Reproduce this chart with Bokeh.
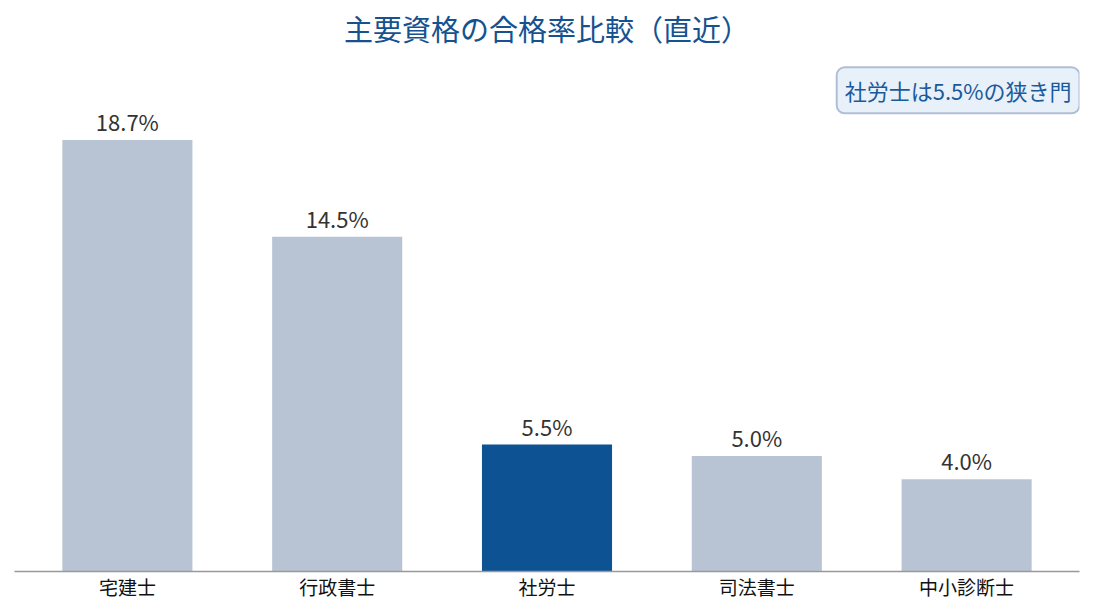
from bokeh.plotting import figure
from bokeh.models import ColumnDataSource, Range1d, Label
from bokeh.core.properties import value
from bokeh.embed import file_html
from bokeh.resources import INLINE

categories = ["宅建士", "行政書士", "社労士", "司法書士", "中小診断士"]
rates = [18.7, 14.5, 5.5, 5.0, 4.0]
highlight = "社労士"
title_text = "主要資格の合格率比較（直近）"
note_text = "社労士は5.5%の狭き門"

FONT = "Noto Sans CJK JP"
GRAY = "#b8c4d4"
BLUE = "#0d5394"

xs = list(range(len(categories)))
colors = [BLUE if c == highlight else GRAY for c in categories]
labels = [f"{v:.1f}%" for v in rates]
src = ColumnDataSource(dict(x=xs, top=rates, color=colors, label=labels))

p = figure(width=1086, height=603, output_backend="svg", toolbar_location=None,
           x_range=Range1d(-0.538, 4.538), y_range=Range1d(0, 24.74),
           min_border_left=14, min_border_right=7, min_border_bottom=32, min_border_top=0)
p.vbar(x="x", top="top", width=0.62, color="color", source=src, line_color=None)
p.text(x="x", y="top", text="label", source=src, text_align="center", text_baseline="bottom",
       y_offset=-3, text_font_size="22px", text_color="#333333", text_font=value(FONT))

p.yaxis.visible = False
p.xgrid.visible = False
p.ygrid.visible = False
p.outline_line_color = None
p.xaxis.ticker = xs
p.xaxis.major_label_overrides = {i: c for i, c in enumerate(categories)}
p.xaxis.major_label_text_font = FONT
p.xaxis.major_label_text_font_size = "19px"
p.xaxis.major_label_text_color = "#111111"
p.xaxis.axis_line_color = "#999999"
p.xaxis.axis_line_width = 1.5
p.xaxis.major_tick_line_color = None
p.xaxis.minor_tick_line_color = None
p.xaxis.major_tick_out = 0
p.xaxis.major_tick_in = 0
p.xaxis.major_label_standoff = 1

title = Label(x=2, y=23.57, text=title_text, text_align="center", text_baseline="middle",
              text_font=FONT, text_font_size="29px", text_color="#15528f")
p.add_layout(title)

note = Label(x=4.538, y=20.85, text=note_text, text_align="right", text_baseline="middle",
             x_offset=0, text_font=FONT, text_font_size="22px", text_color="#1a5a9a",
             background_fill_color="#e8f0fa", border_line_color="#b0bfd6", border_line_width=2,
             padding=dict(left=8, right=8, top=7, bottom=7), border_radius=8)
p.add_layout(note)

open("out.html", "w").write(file_html(p, INLINE))
